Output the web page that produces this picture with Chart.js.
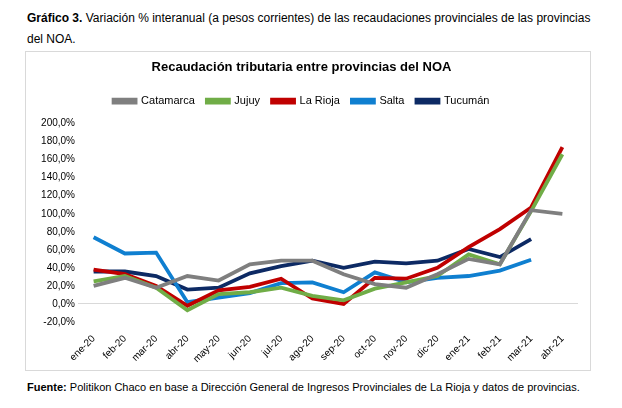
<!DOCTYPE html><html><head><meta charset="utf-8">
<script src="https://cdn.jsdelivr.net/npm/chart.js@4"></script>
<style>
body{margin:0;background:#fff;font-family:"Liberation Sans",Arial,sans-serif;width:622px;height:408px;position:relative;overflow:hidden}
#hd{position:absolute;left:27px;top:8px;width:580px;font-size:12px;line-height:21px;color:#000}
#box{position:absolute;left:25px;top:51px;width:566px;height:320px;border:1px solid #d9d9d9;box-sizing:border-box}
#c{position:absolute;left:-1px;top:-1px}
#ft{position:absolute;left:27px;top:381px;font-size:11px;color:#000}
</style></head><body>
<div id="hd"><b>Gráfico 3.</b> Variación % interanual (a pesos corrientes) de las recaudaciones provinciales de las provincias del NOA.</div>
<div id="box"><canvas id="c" width="566" height="320"></canvas></div>
<div id="ft"><b>Fuente:</b> Politikon Chaco en base a Dirección General de Ingresos Provinciales de La Rioja y datos de provincias.</div>
<script>
const categories=["ene-20","feb-20","mar-20","abr-20","may-20","jun-20","jul-20","ago-20","sep-20","oct-20","nov-20","dic-20","ene-21","feb-21","mar-21","abr-21"];
const catamarca=[20,29,18,31,26,44,48,48,33,22,18,33,50,44,104,100];
const jujuy=[25,31,18,-7,11,13,18,9,4,17,24,31,55,44,103,166];
const laRioja=[38,33,20,-2,15,19,28,6,0,29,28,40,63,83,107,174];
const salta=[74,56,57,2,7,12,23,24,13,35,24,29,31,37,49,null];
const tucuman=[36,36,31,16,18,34,42,48,40,47,45,48,61,52,72,null];
const names=["Catamarca","Jujuy","La Rioja","Salta","Tucumán"];
const colors=["#7f7f7f","#70ad47","#c00000","#0f7fd0","#0d2a64"];
const series=[catamarca,jujuy,laRioja,salta,tucuman];
new Chart(document.getElementById('c'),{type:'line',
data:{labels:categories,datasets:series.map((d,i)=>({label:names[i],data:d,borderColor:colors[i],backgroundColor:colors[i],borderWidth:3.8,pointRadius:0,tension:0}))},
options:{responsive:false,animation:false,devicePixelRatio:1,
layout:{padding:{left:0,right:13,top:0,bottom:0}},
plugins:{title:{display:true,text:'Recaudación tributaria entre provincias del NOA',font:{size:13,weight:'bold',family:'Liberation Sans'},color:'#000',padding:{top:9,bottom:8}},
legend:{labels:{boxWidth:22,boxHeight:3,font:{size:11,family:'Liberation Sans'},color:'#000',padding:12}},tooltip:{enabled:false}},
scales:{y:{min:-20,max:200,afterFit:s=>{s.width=53},ticks:{stepSize:20,callback:v=>v.toFixed(1).replace('.',',')+'%',font:{size:10,family:'Liberation Sans'},color:'#000'},grid:{drawTicks:false,color:c=>c.tick.value===0?'#d9d9d9':'transparent'},border:{display:false}},
x:{offset:true,afterFit:s=>{s.height=49},ticks:{maxRotation:45,minRotation:45,font:{size:10,family:'Liberation Sans'},color:'#000'},grid:{display:false},border:{display:false}}}},
plugins:[{id:'lg',afterInit(ch){const f=ch.legend.fit;ch.legend.fit=function(){f.call(this);this.height+=7;};}}]});
</script>
</body></html>
